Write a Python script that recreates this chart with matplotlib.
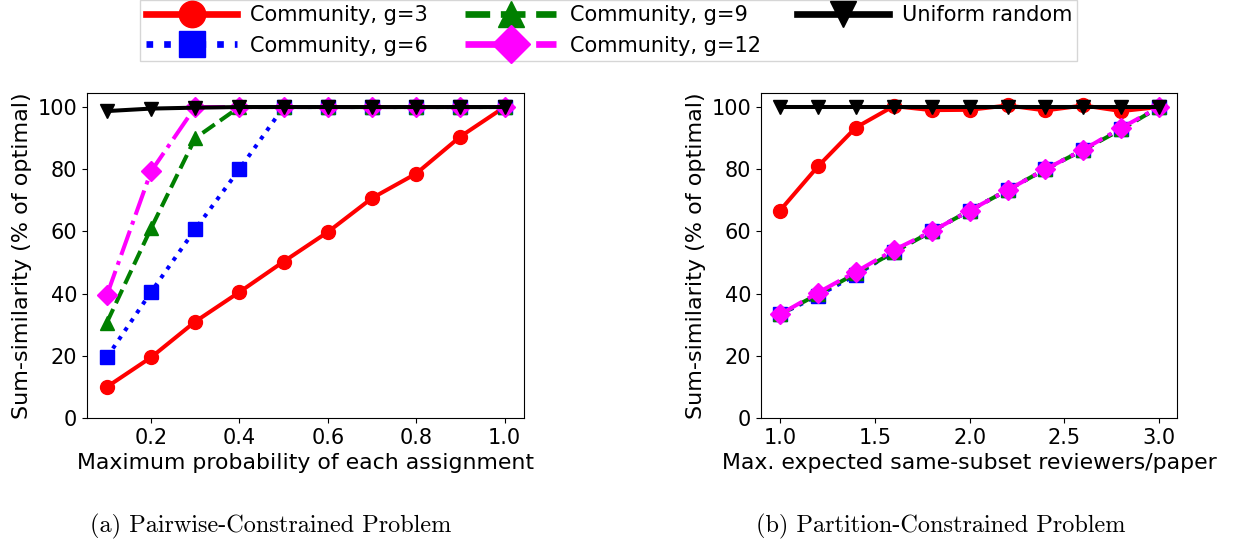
import matplotlib
matplotlib.use("Agg")
import matplotlib.pyplot as plt

# Left panel: pairwise-constrained
x_left = [0.1, 0.2, 0.3, 0.4, 0.5, 0.6, 0.7, 0.8, 0.9, 1.0]
left_g3 = [10.0, 19.5, 31.0, 40.5, 50.3, 59.8, 70.7, 78.6, 90.5, 100.0]
left_g6 = [19.5, 40.5, 60.7, 80.0, 100.0, 100.0, 100.0, 100.0, 100.0, 100.0]
left_g9 = [30.7, 61.0, 90.0, 100.0, 100.0, 100.0, 100.0, 100.0, 100.0, 100.0]
left_g12 = [39.5, 79.3, 100.0, 100.0, 100.0, 100.0, 100.0, 100.0, 100.0, 100.0]
left_unif = [98.7, 99.5, 99.8, 100.0, 100.0, 100.0, 100.0, 100.0, 100.0, 100.0]

# Right panel: partition-constrained
x_right = [1.0, 1.2, 1.4, 1.6, 1.8, 2.0, 2.2, 2.4, 2.6, 2.8, 3.0]
right_g3 = [66.7, 80.9, 93.4, 100.3, 99.0, 99.1, 100.5, 98.9, 100.5, 98.7, 100.0]
right_g6 = [33.3, 39.3, 46.0, 53.5, 60.0, 66.7, 73.3, 80.0, 86.3, 93.0, 100.0]
right_g9 = [33.3, 39.8, 46.5, 53.3, 60.0, 66.7, 73.3, 80.0, 86.2, 92.8, 100.0]
right_g12 = [33.3, 40.3, 47.0, 54.0, 60.0, 66.7, 73.3, 80.0, 86.3, 93.3, 100.0]
right_unif = [100.0] * 11

labels = ["Community, g=3", "Community, g=6", "Community, g=9",
          "Community, g=12", "Uniform random"]
colors = ["red", "blue", "green", "magenta", "black"]
markers = ["o", "s", "^", "D", "v"]
styles = ["-", ":", "--", "-.", "-"]

fig = plt.figure(figsize=(12.39, 5.46), dpi=100)
axL = fig.add_axes([0.0702, 0.2344, 0.3527, 0.5952])
axR = fig.add_axes([0.6142, 0.2344, 0.3358, 0.5952])

lw = 2.9
ms = 10
handles = []
for ax, xs, series in [
    (axL, x_left, [left_g3, left_g6, left_g9, left_g12, left_unif]),
    (axR, x_right, [right_g3, right_g6, right_g9, right_g12, right_unif]),
]:
    hs = []
    for ys, c, m, s, lab in zip(series, colors, markers, styles, labels):
        h, = ax.plot(xs, ys, color=c, marker=m, linestyle=s, linewidth=lw,
                     markersize=ms, label=lab)
        hs.append(h)
    handles = hs
    ax.set_ylim(0, 104.5)
    ax.set_yticks([0, 20, 40, 60, 80, 100])
    ax.tick_params(labelsize=15)
    ax.set_ylabel("Sum-similarity (% of optimal)", fontsize=16)

axL.set_xlim(0.055, 1.044)
axL.set_xticks([0.2, 0.4, 0.6, 0.8, 1.0])
axL.set_xlabel("Maximum probability of each assignment", fontsize=15.8)

axR.set_xlim(0.9, 3.094)
axR.set_xticks([1.0, 1.5, 2.0, 2.5, 3.0])
axR.set_xlabel("Max. expected same-subset reviewers/paper", fontsize=15.8)

leg = fig.legend(handles, labels, loc="upper center", bbox_to_anchor=(0.4915, 1.0),
                 ncol=3, fontsize=15, markerscale=1.9, handlelength=4.4,
                 columnspacing=1.75, borderaxespad=0.0, borderpad=0.25,
                 handletextpad=0.63, labelspacing=0.5, fancybox=False)
leg.get_frame().set_edgecolor("#cccccc")
for line in leg.get_lines():
    line.set_linewidth(4.8)

fig.text(0.2187, 0.036, "(a) Pairwise-Constrained Problem", ha="center", va="center",
         fontsize=17.5, family="cmr10")
fig.text(0.7595, 0.036, "(b) Partition-Constrained Problem", ha="center", va="center",
         fontsize=17.5, family="cmr10")

fig.savefig("out.png", dpi=100)
